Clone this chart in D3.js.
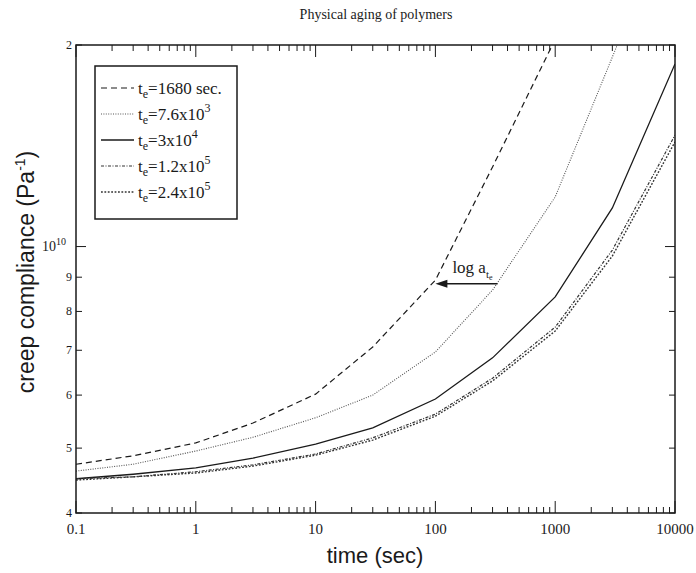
<!DOCTYPE html>
<html>
<head>
<meta charset="utf-8">
<script src="https://cdn.jsdelivr.net/npm/d3@7"></script>
<style>
  html, body { margin: 0; padding: 0; background: #fff; }
  svg { display: block; }
</style>
</head>
<body>
<script>
// ---------- data (compliance in units of 1e9 Pa^-1) ----------
const time = [0.1, 0.3, 1, 3, 10, 30, 100, 300, 1000, 3000, 10000];
const te1680  = [4.73, 4.87, 5.09, 5.45, 6.02, 7.08, 8.91, 13.15, 20.4, null, null];
const te7600  = [4.62, 4.73, 4.95, 5.19, 5.55, 6.00, 6.96, 8.61, 11.86, 19.19, 32.7];
const te3e4   = [4.50, 4.57, 4.67, 4.83, 5.07, 5.36, 5.92, 6.82, 8.41, 11.42, 18.74];
const te1_2e5 = [4.50, 4.53, 4.61, 4.72, 4.90, 5.18, 5.62, 6.36, 7.58, 9.88, 14.67];
const te2_4e5 = [4.48, 4.53, 4.59, 4.70, 4.88, 5.14, 5.58, 6.30, 7.48, 9.68, 14.33];

const xMajorTicks = [0.1, 1, 10, 100, 1000, 10000];
const xTickLabels = ["0.1", "1", "10", "100", "1000", "10000"];
const yTicks = [4, 5, 6, 7, 8, 9, 10, 20];
const yTickLabels = ["4", "5", "6", "7", "8", "9", "10|10", "2"];

const legendLabels = [
  [["t"], ["e", "sub"], ["=1680 sec."]],
  [["t"], ["e", "sub"], ["=7.6x10"], ["3", "sup"]],
  [["t"], ["e", "sub"], ["=3x10"], ["4", "sup"]],
  [["t"], ["e", "sub"], ["=1.2x10"], ["5", "sup"]],
  [["t"], ["e", "sub"], ["=2.4x10"], ["5", "sup"]]
];
const arrowFrom = 330, arrowTo = 100, arrowLevel = 8.8; // annotation, data coords

// ---------- layout ----------
const W = 696, H = 573;
const L = 76, R = 675, T = 45, B = 513;
const serif = "'Liberation Serif', 'Times New Roman', serif";
const sans = "'Liberation Sans', Arial, sans-serif";
const ink = "#1a1a1a";

const svg = d3.select("body").append("svg").attr("width", W).attr("height", H);

const x = d3.scaleLog().domain([0.1, 10000]).range([L, R]);
const y = d3.scaleLog().domain([4, 20]).range([B, T]);

const styles = [
  { dash: "6,4", w: 1.2, c: ink },
  { dash: "1,1.4", w: 1.1, c: "#555" },
  { dash: null, w: 1.3, c: ink },
  { dash: "3,1.5,1,1.5", w: 1.2, c: "#333" },
  { dash: "1.8,1.6", w: 1.4, c: "#333" }
];
const seriesVals = [te1680, te7600, te3e4, te1_2e5, te2_4e5];

// clip
svg.append("defs").append("clipPath").attr("id", "clip")
  .append("rect").attr("x", L).attr("y", T).attr("width", R - L).attr("height", B - T);

// title
svg.append("text").attr("x", 376).attr("y", 19).attr("text-anchor", "middle")
  .attr("font-family", serif).attr("font-size", 14).attr("fill", ink)
  .text("Physical aging of polymers");

// curves
const line = d3.line()
  .defined(d => d[1] != null)
  .x(d => x(d[0])).y(d => y(d[1]));
const gLines = svg.append("g").attr("clip-path", "url(#clip)");
seriesVals.forEach((vals, i) => {
  const pts = time.map((t, k) => [t, vals[k]]);
  gLines.append("path").datum(pts)
    .attr("d", line).attr("fill", "none")
    .attr("stroke", styles[i].c).attr("stroke-width", styles[i].w)
    .attr("stroke-dasharray", styles[i].dash);
});

// frame
svg.append("rect").attr("x", L).attr("y", T).attr("width", R - L).attr("height", B - T)
  .attr("fill", "none").attr("stroke", ink).attr("stroke-width", 1.5);

// x ticks (inward, bottom and top)
const xMinor = [];
xMajorTicks.slice(0, -1).forEach(d => { for (let k = 2; k <= 9; k++) xMinor.push(d * k); });
const gx = svg.append("g").attr("stroke", ink).attr("stroke-width", 1);
xMajorTicks.forEach(v => {
  gx.append("line").attr("x1", x(v)).attr("x2", x(v)).attr("y1", B).attr("y2", B - 12);
  gx.append("line").attr("x1", x(v)).attr("x2", x(v)).attr("y1", T).attr("y2", T + 12);
});
xMinor.forEach(v => {
  gx.append("line").attr("x1", x(v)).attr("x2", x(v)).attr("y1", B).attr("y2", B - 6);
  gx.append("line").attr("x1", x(v)).attr("x2", x(v)).attr("y1", T).attr("y2", T + 6);
});
xMajorTicks.forEach((v, i) => {
  svg.append("text").attr("x", x(v)).attr("y", 534).attr("text-anchor", "middle")
    .attr("font-family", serif).attr("font-size", 15).attr("fill", ink)
    .text(xTickLabels[i]);
});

// y ticks (inward, left and right)
const gy = svg.append("g").attr("stroke", ink).attr("stroke-width", 1);
yTicks.forEach(v => {
  const len = (v === 10) ? 10 : 6;
  gy.append("line").attr("x1", L).attr("x2", L + len).attr("y1", y(v)).attr("y2", y(v));
  gy.append("line").attr("x1", R).attr("x2", R - len).attr("y1", y(v)).attr("y2", y(v));
});
yTicks.forEach((v, i) => {
  const lab = yTickLabels[i];
  const t = svg.append("text").attr("y", y(v) + 4).attr("text-anchor", "end")
    .attr("font-family", serif).attr("font-size", 12).attr("fill", ink);
  if (lab.includes("|")) {
    const [base, exp] = lab.split("|");
    t.attr("x", 66).attr("font-size", 14);
    t.append("tspan").text(base);
    t.append("tspan").attr("dy", -6).attr("font-size", 10).text(exp);
  } else {
    t.attr("x", 72).text(lab);
  }
});

// axis titles
svg.append("text").attr("x", 375).attr("y", 563).attr("text-anchor", "middle")
  .attr("font-family", sans).attr("font-size", 22).attr("fill", ink)
  .text("time (sec)");

const yl = svg.append("text")
  .attr("transform", "translate(34,272) rotate(-90)")
  .attr("text-anchor", "middle")
  .attr("font-family", sans).attr("font-size", 23).attr("fill", ink);
yl.append("tspan").text("creep compliance (Pa");
yl.append("tspan").attr("dy", -9).attr("font-size", 14).text("-1");
yl.append("tspan").attr("dy", 9).text(")");

// legend
const lg = svg.append("g");
lg.append("rect").attr("x", 95).attr("y", 66).attr("width", 142).attr("height", 153)
  .attr("fill", "#fff").attr("stroke", ink).attr("stroke-width", 1.5);
legendLabels.forEach((parts, i) => {
  const cy = 88 + i * 26;
  lg.append("line").attr("x1", 101).attr("x2", 134).attr("y1", cy).attr("y2", cy)
    .attr("stroke", styles[i].c).attr("stroke-width", styles[i].w)
    .attr("stroke-dasharray", styles[i].dash);
  const t = lg.append("text").attr("x", 138).attr("y", cy + 6)
    .attr("font-family", serif).attr("font-size", 17).attr("fill", ink);
  let shift = 0;
  parts.forEach(([s, kind]) => {
    const sp = t.append("tspan").text(s);
    let target = 0;
    if (kind === "sub") { target = 4; sp.attr("font-size", 12); }
    else if (kind === "sup") { target = -8; sp.attr("font-size", 12); }
    sp.attr("dy", target - shift);
    shift = target;
  });
});

// annotation arrow: log a_te
const ax1 = x(arrowFrom), ax2 = x(arrowTo), ay = y(arrowLevel);
svg.append("line").attr("x1", ax1).attr("x2", ax2 + 8).attr("y1", ay).attr("y2", ay)
  .attr("stroke", ink).attr("stroke-width", 1.5);
svg.append("path")
  .attr("d", `M${ax2},${ay} L${ax2 + 12},${ay - 4} L${ax2 + 12},${ay + 4} Z`)
  .attr("fill", ink);
const at = svg.append("text").attr("x", ax2 + 17).attr("y", ay - 11)
  .attr("font-family", serif).attr("font-size", 17).attr("fill", ink);
at.append("tspan").text("log a");
at.append("tspan").attr("dy", 5).attr("font-size", 11).text("t");
at.append("tspan").attr("dy", 2).attr("font-size", 8).text("e");
</script>
</body>
</html>
